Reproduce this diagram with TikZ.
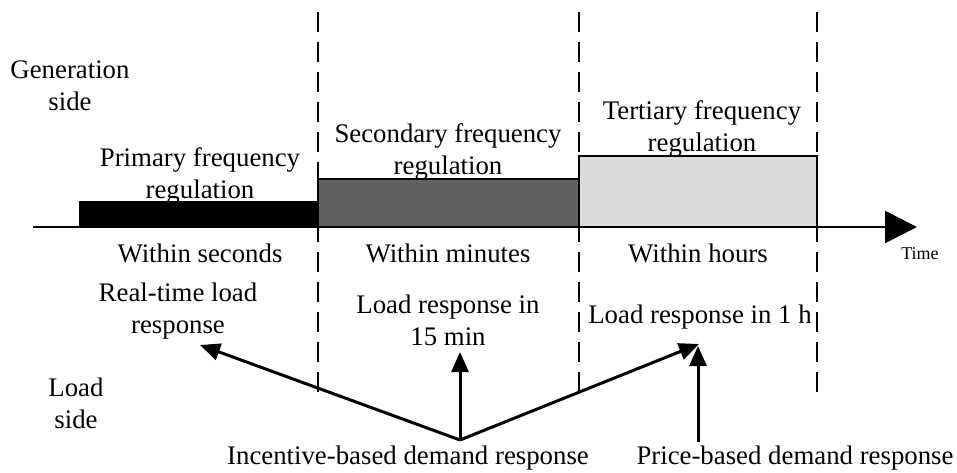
\documentclass[tikz,border=0pt]{standalone}
\usepackage{fontspec}
\setmainfont{Liberation Serif}
\usetikzlibrary{arrows.meta}
\begin{document}
\begin{tikzpicture}[x=1pt,y=-1pt,
  lbl/.style={font=\fontsize{26.8}{32}\selectfont, align=center, inner sep=0pt},
  divider/.style={line width=2.8pt, dash pattern=on 20pt off 10pt},
  bar/.style={draw=black, line width=2.6pt},
  resp/.style={line width=3pt, -{Triangle[length=20pt,width=17pt]}},
  axis/.style={line width=2.6pt, -{Triangle[length=32pt,width=32pt]}}]
\useasboundingbox (0,0) rectangle (957,473);
% bars
\fill[bar, fill=black] (80,227) rectangle (318,202);
\filldraw[bar, fill=black!62] (318,227) rectangle (579,179);
\filldraw[bar, fill=black!14] (579,227) rectangle (817,156);
% axis
\coordinate (ax0) at (33,227);
\coordinate (ax1) at (917,227);
\draw[axis] (ax0) -- (ax1);
% dividers
\foreach \x/\n in {318/a,579/b,817/c}{
  \coordinate (top\n) at (\x,12);
  \coordinate (bot\n) at (\x,394);
  \draw[divider] (top\n) -- (bot\n);
}
% texts
\node[lbl] (gen) at (70,86) {Generation\\side};
\node[lbl] (prim) at (200,176) {Primary frequency\\regulation};
\node[lbl] (sec) at (448,152) {Secondary frequency\\regulation};
\node[lbl] (tert) at (702,129) {Tertiary frequency\\regulation};
\node[lbl] (ws) at (200,253) {Within seconds};
\node[lbl] (wm) at (448,253) {Within minutes};
\node[lbl] (wh) at (698,253) {Within hours};
\node[lbl, font=\fontsize{18}{22}\selectfont] (time) at (920,254) {Time};
\node[lbl] (rt) at (178,311) {Real-time load\\response};
\node[lbl] (l15) at (448,320) {Load response in\\15 min};
\node[lbl] (l1h) at (700,317) {Load response in 1 h};
\node[lbl] (load) at (76,403) {Load\\side};
\node[lbl] (inc) at (408,458) {Incentive-based demand response};
\node[lbl] (price) at (795,458) {Price-based demand response};
% arrows
\coordinate (src) at (460,440);
\coordinate (psrc) at (698,442);
\coordinate (trt) at (200,345);
\coordinate (t15) at (460,352);
\coordinate (t1h) at (699,344);
\coordinate (tp) at (698,346);
\draw[resp] (src) -- (trt);
\draw[resp] (src) -- (t15);
\draw[resp] (src) -- (t1h);
\draw[resp] (psrc) -- (tp);
\end{tikzpicture}
\end{document}
